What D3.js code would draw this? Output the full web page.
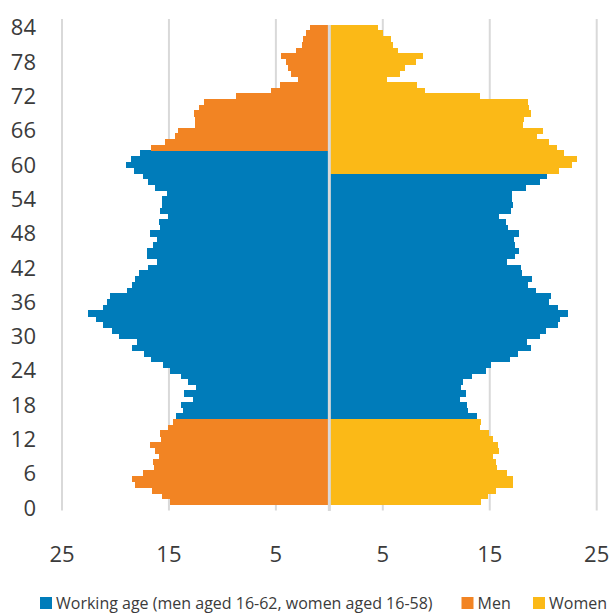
<!DOCTYPE html>
<html>
<head>
<meta charset="utf-8">
<script src="https://cdn.jsdelivr.net/npm/d3@7"></script>
<style>
  html, body { margin: 0; padding: 0; background: #fff; }
  svg { display: block; font-family: "Open Sans", "Noto Sans", sans-serif; }
</style>
</head>
<body>
<svg id="chart" width="610" height="613"></svg>
<script>
// ---- Data (ages 1..84) ----
const ages = d3.range(1, 85);
const men = [14.91,15.65,16.59,18.18,18.46,17.43,16.40,16.50,15.93,16.31,
  16.78,15.75,15.84,15.09,14.63,14.35,13.69,13.88,12.76,13.60,
  12.48,13.22,13.88,14.91,15.56,16.68,17.34,18.46,17.99,19.67,
  20.33,21.17,21.82,22.57,21.17,20.79,20.51,18.93,18.46,18.18,
  17.80,16.96,16.12,17.06,17.06,16.50,16.12,16.78,15.84,15.93,
  15.09,15.84,15.65,15.65,15.22,16.31,16.96,17.43,18.27,19.00,
  18.55,17.71,16.68,15.37,14.44,14.16,12.57,12.57,12.66,12.20,
  11.73,8.74,5.47,4.63,2.97,3.60,3.88,4.07,4.53,3.13,
  2.57,2.45,2.20,1.82];
const women = [14.16,14.81,15.56,17.15,17.15,16.59,15.65,15.56,15.28,15.84,
  15.75,15.28,14.91,14.07,14.16,13.79,12.94,12.85,12.20,12.76,
  12.29,12.48,13.32,14.63,15.09,16.87,17.62,18.83,18.46,19.67,
  20.23,21.36,21.54,22.29,21.36,20.51,20.70,19.30,18.55,18.93,
  18.00,17.90,16.59,17.34,17.71,17.34,17.24,17.71,16.68,16.50,
  15.84,16.96,17.15,17.06,17.06,18.36,19.67,20.33,21.45,22.66,
  23.13,21.92,21.26,20.51,19.39,19.95,18.08,18.18,18.83,18.64,
  18.55,14.07,8.93,8.18,5.37,6.59,7.06,8.08,8.74,6.40,
  5.93,5.75,5.00,4.53];
const workingMen = [16, 62];
const workingWomen = [16, 58];
const yTickLabels = d3.range(0, 85, 6);
const xTickValues = [-25, -15, -5, 5, 15, 25];
const seriesNames = ["Working age (men aged 16-62, women aged 16-58)", "Men", "Women"];
const seriesColors = ["#007cba", "#f28423", "#fbb917"];

// ---- Layout ----
const svg = d3.select("#chart");
const plotTop = 19, plotBottom = 510.5;
const x = d3.scaleLinear().domain([-25, 25]).range([62, 596.7]);
const y = d3.scaleBand().domain(d3.range(0, 86)).range([plotBottom, plotTop]).padding(0);
const textColor = "#3b3b3b";
const gridColor = "#d9d9d9";

// gridlines
svg.append("g").selectAll("line").data(xTickValues).join("line")
  .attr("x1", d => x(d)).attr("x2", d => x(d))
  .attr("y1", plotTop).attr("y2", plotBottom)
  .attr("stroke", gridColor).attr("stroke-width", 2);

// bars
const rows = ages.map((a, i) => ({age: a, m: men[i], w: women[i]}));
const bars = svg.append("g").attr("shape-rendering", "crispEdges");
bars.selectAll("rect.m").data(rows).join("rect").attr("class", "m")
  .attr("x", d => x(-d.m)).attr("width", d => x(0) - x(-d.m))
  .attr("y", d => y(d.age)).attr("height", y.bandwidth() + 0.4)
  .attr("fill", d => (d.age >= workingMen[0] && d.age <= workingMen[1]) ? seriesColors[0] : seriesColors[1]);
bars.selectAll("rect.w").data(rows).join("rect").attr("class", "w")
  .attr("x", x(0)).attr("width", d => x(d.w) - x(0))
  .attr("y", d => y(d.age)).attr("height", y.bandwidth() + 0.4)
  .attr("fill", d => (d.age >= workingWomen[0] && d.age <= workingWomen[1]) ? seriesColors[0] : seriesColors[2]);

// center axis line
svg.append("line")
  .attr("x1", x(0)).attr("x2", x(0))
  .attr("y1", plotTop + 6).attr("y2", plotBottom + 0.5)
  .attr("stroke", gridColor).attr("stroke-width", 3);

// y labels
svg.append("g").selectAll("text").data(yTickLabels).join("text")
  .attr("x", 36).attr("y", d => y(d) + y.bandwidth() / 2)
  .attr("dy", "0.36em")
  .attr("text-anchor", "end")
  .attr("fill", textColor).attr("font-size", 22)
  .text(d => d);

// x labels
svg.append("g").selectAll("text").data(xTickValues).join("text")
  .attr("x", d => x(d)).attr("y", 562)
  .attr("text-anchor", "middle")
  .attr("fill", textColor).attr("font-size", 22)
  .text(d => Math.abs(d));

// legend
const legendY = 609;
const legendStarts = [40, 461.5, 533];
const lg = svg.append("g");
seriesNames.forEach((name, i) => {
  const g = lg.append("g");
  g.append("rect").attr("x", legendStarts[i]).attr("y", legendY - 12)
    .attr("width", 12).attr("height", 12).attr("fill", seriesColors[i]);
  g.append("text").attr("x", legendStarts[i] + 16).attr("y", legendY)
    .attr("fill", textColor).attr("font-size", 16).text(name);
});
</script>
</body>
</html>
